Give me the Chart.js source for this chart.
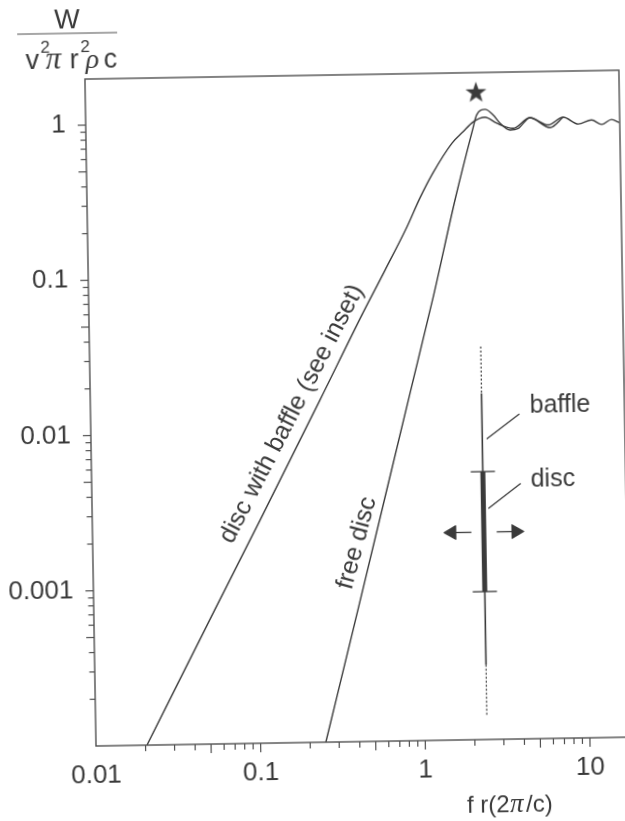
<!DOCTYPE html>
<html>
<head>
<meta charset="utf-8">
<title>Disc radiation</title>
<script src="https://cdn.jsdelivr.net/npm/chart.js@4/dist/chart.umd.min.js"></script>
<style>
  html, body { margin: 0; padding: 0; background: #fff; overflow: hidden; width: 625px; height: 821px; }
  /* the scanned page sits slightly crooked */
  #chart { position: absolute; left: 0; top: 0; transform-origin: 96px 746px; transform: rotate(-0.95deg); }
</style>
</head>
<body>
<canvas id="chart" width="660" height="840"></canvas>
<script>
// Curve values
const baffleX = [0.0204, 0.055, 0.1045, 0.248, 0.462, 0.635, 0.871, 1.053, 1.27, 1.67, 1.95, 2.25, 2.66, 3.13, 3.93, 4.99, 6.44, 7.94, 9.8, 11.8, 13.6, 15.6, 17.4]
const baffleY = [0.0001, 0.00075, 0.00274, 0.016, 0.0577, 0.108, 0.204, 0.313, 0.452, 0.7, 0.824, 0.953, 1.02, 0.93, 0.859, 1.0, 0.895, 1.0, 0.9, 0.953, 0.89, 0.955, 0.91]
const freeX = [0.249, 0.404, 0.875, 1.24, 1.73, 2.23, 2.37, 2.67, 2.99, 3.28, 3.77, 4.24, 4.99, 6.6, 7.94]
const freeY = [0.0001, 0.00072, 0.0173, 0.0721, 0.31, 0.845, 1.057, 1.145, 1.05, 0.93, 0.838, 0.859, 1.0, 0.86, 1.0]

// Axis ticks
const xRange = [0.01, 17.5]
const yRange = [0.0001, 1.98]
const xLabelTicks = [0.01, 0.1, 1, 10]
const yLabelTicks = [0.001, 0.01, 0.1, 1]
const xLongTicks = [0.05, 0.1, 0.5, 1, 5, 10]
const xShortTicks = [0.02, 0.03, 0.04, 0.06, 0.07, 0.08, 0.09, 0.2, 0.3, 0.4, 0.6, 0.7, 0.8, 0.9, 2, 3, 4, 6, 7, 8, 9]
const yLongTicks = [0.0005, 0.001, 0.005, 0.01, 0.05, 0.1, 0.5, 1]
const yShortTicks = [0.0002, 0.0003, 0.0004, 0.0006, 0.0007, 0.0008, 0.0009, 0.002, 0.003, 0.004, 0.006, 0.007, 0.008, 0.009, 0.02, 0.03, 0.04, 0.06, 0.07, 0.08, 0.09, 0.2, 0.3, 0.4, 0.6, 0.7, 0.8, 0.9]

// Inset sketch, in the same data units
const insetX = 2.38
const baffleTopDots = [0.034, 0.017]
const baffleSolid = [0.017, 0.00532]
const discSolid = [0.00532, 0.000897]
const baffleLowSolid = [0.000897, 0.000303]
const baffleLowDots = [0.000303, 0.000141]
const barX = [2.01, 2.82]
const barY = [0.00532, 0.000897]
const baffleLeaderX = [2.53, 4.02]
const baffleLeaderY = [0.00863, 0.0124]
const discLeaderX = [2.55, 4.03]
const discLeaderY = [0.00308, 0.00443]
const arrowY = 0.00217
const leftArrowX = [1.52, 2.0]
const rightArrowX = [2.85, 3.73]
const starX = 2.36
const starY = 1.48

const inkColor = "#3a3a3a"
const axisColor = "#505050"
const sansFamily = '"Liberation Sans", Arial, sans-serif'
const serifFamily = '"Liberation Serif", serif'
const labelFont = "25px " + sansFamily

function toPoints(xs, ys) {
  return xs.map((x, i) => ({ x: x, y: ys[i] }))
}

function verticalPoints(ys) {
  return ys.map((y) => ({ x: insetX, y: y }))
}

function lineSet(data, width, dash) {
  return {
    data: data,
    showLine: true,
    borderColor: inkColor,
    borderWidth: width,
    borderDash: dash || [],
    pointRadius: 0,
  }
}

// Filled star marker
function makeStar() {
  const c = document.createElement("canvas")
  c.width = 22
  c.height = 22
  const g = c.getContext("2d")
  g.fillStyle = "#3a3a3a"
  g.beginPath()
  for (let i = 0; i < 10; i++) {
    const r = i % 2 === 0 ? 11 : 4.4
    const a = -Math.PI / 2 + (i * Math.PI) / 5
    g.lineTo(11 + r * Math.cos(a), 11.5 + r * Math.sin(a))
  }
  g.closePath()
  g.fill()
  return c
}

function text(ctx, str, x, y, font, align) {
  ctx.font = font
  ctx.textAlign = align || "left"
  ctx.textBaseline = "alphabetic"
  ctx.fillText(str, x, y)
}

// Frame, minor ticks and all the annotation text
const decorations = {
  id: "decorations",
  afterDraw(chart) {
    const ctx = chart.ctx
    const area = chart.chartArea
    const xs = chart.scales.x
    const ys = chart.scales.y

    ctx.save()
    ctx.strokeStyle = axisColor
    ctx.lineWidth = 1.4
    ctx.strokeRect(area.left, area.top, area.right - area.left, area.bottom - area.top)

    ctx.lineWidth = 1.2
    const tick = (x1, y1, x2, y2) => {
      ctx.beginPath()
      ctx.moveTo(x1, y1)
      ctx.lineTo(x2, y2)
      ctx.stroke()
    }
    xLongTicks.forEach((v) => tick(xs.getPixelForValue(v), area.bottom, xs.getPixelForValue(v), area.bottom + 9))
    xShortTicks.forEach((v) => tick(xs.getPixelForValue(v), area.bottom, xs.getPixelForValue(v), area.bottom + 6))
    yLongTicks.forEach((v) => tick(area.left - 8, ys.getPixelForValue(v), area.left, ys.getPixelForValue(v)))
    yShortTicks.forEach((v) => tick(area.left - 5.5, ys.getPixelForValue(v), area.left, ys.getPixelForValue(v)))

    ctx.fillStyle = inkColor

    // Inset labels
    ctx.font = labelFont
    ctx.textAlign = "center"
    ctx.textBaseline = "middle"
    ctx.fillText("baffle", xs.getPixelForValue(7.11), ys.getPixelForValue(0.014))
    ctx.fillText("disc", xs.getPixelForValue(6.32), ys.getPixelForValue(0.00462))

    // Labels along the curves
    ctx.save()
    ctx.translate(xs.getPixelForValue(0.1667), ys.getPixelForValue(0.0131))
    ctx.rotate((-61.8 * Math.PI) / 180)
    ctx.fillText("disc with baffle (see inset)", 0, 0)
    ctx.restore()

    ctx.save()
    ctx.translate(xs.getPixelForValue(0.403), ys.getPixelForValue(0.0019))
    ctx.rotate((-74 * Math.PI) / 180)
    ctx.fillText("free disc", 0, 0)
    ctx.restore()

    // Y axis title, written as a fraction
    text(ctx, "W", 79, 28, "27px " + sansFamily, "center")
    tick(29, 33, 129, 33)
    text(ctx, "v", 37, 68, "27px " + sansFamily)
    text(ctx, "2", 52, 52, "17px " + sansFamily)
    text(ctx, "π", 57, 68, "italic 31px " + serifFamily)
    text(ctx, "r", 81, 68, "27px " + sansFamily)
    text(ctx, "2", 92, 52, "17px " + sansFamily)
    text(ctx, "ρ", 97, 68, "italic 28px " + serifFamily)
    text(ctx, "c", 115, 68, "27px " + sansFamily)

    // X axis title
    const xFont = "24px " + sansFamily
    text(ctx, "f r(2", 466, 819, xFont)
    text(ctx, "π", 509, 819, "italic 27px " + serifFamily)
    text(ctx, "/c)", 525, 819, xFont)
    ctx.restore()
  },
}

new Chart(document.getElementById("chart"), {
  type: "scatter",
  data: {
    datasets: [
      { ...lineSet(toPoints(baffleX, baffleY), 1.4), cubicInterpolationMode: "monotone" },
      { ...lineSet(toPoints(freeX, freeY), 1.4), cubicInterpolationMode: "monotone" },
      lineSet(verticalPoints(baffleTopDots), 1.2, [2, 2]),
      lineSet(verticalPoints(baffleSolid), 1.6),
      lineSet(verticalPoints(discSolid), 5),
      lineSet(verticalPoints(baffleLowSolid), 1.6),
      lineSet(verticalPoints(baffleLowDots), 1.2, [2, 2]),
      lineSet(toPoints(barX, [barY[0], barY[0]]), 1.3),
      lineSet(toPoints(barX, [barY[1], barY[1]]), 1.3),
      lineSet(toPoints(baffleLeaderX, baffleLeaderY), 1.3),
      lineSet(toPoints(discLeaderX, discLeaderY), 1.3),
      lineSet(toPoints(leftArrowX, [arrowY, arrowY]), 1.3),
      lineSet(toPoints(rightArrowX, [arrowY, arrowY]), 1.3),
      {
        data: [{ x: leftArrowX[0], y: arrowY }],
        pointStyle: "triangle",
        pointRotation: -90,
        pointRadius: 8,
        backgroundColor: inkColor,
        borderColor: inkColor,
      },
      {
        data: [{ x: rightArrowX[1], y: arrowY }],
        pointStyle: "triangle",
        pointRotation: 90,
        pointRadius: 8,
        backgroundColor: inkColor,
        borderColor: inkColor,
      },
      {
        data: [{ x: starX, y: starY }],
        pointStyle: makeStar(),
        pointRadius: 11,
      },
    ],
  },
  options: {
    responsive: false,
    animation: false,
    layout: { padding: { top: 79, right: 30, left: 0, bottom: 0 } },
    plugins: { legend: { display: false }, tooltip: { enabled: false } },
    scales: {
      x: {
        type: "logarithmic",
        min: xRange[0],
        max: xRange[1],
        grid: { display: false },
        border: { display: false },
        afterBuildTicks: (scale) => {
          scale.ticks = xLabelTicks.map((v) => ({ value: v }))
        },
        afterFit: (scale) => {
          scale.height = 94
        },
        ticks: {
          color: inkColor,
          font: { family: sansFamily, size: 26 },
          padding: 6,
          autoSkip: false,
          maxRotation: 0,
          callback: (v) => String(v),
        },
      },
      y: {
        type: "logarithmic",
        min: yRange[0],
        max: yRange[1],
        grid: { display: false },
        border: { display: false },
        afterBuildTicks: (scale) => {
          scale.ticks = yLabelTicks.map((v) => ({ value: v }))
        },
        afterFit: (scale) => {
          scale.width = 96
        },
        ticks: {
          color: inkColor,
          font: { family: sansFamily, size: 26 },
          padding: 12,
          autoSkip: false,
          callback: (v) => String(v),
        },
      },
    },
  },
  plugins: [decorations],
})
</script>
</body>
</html>
